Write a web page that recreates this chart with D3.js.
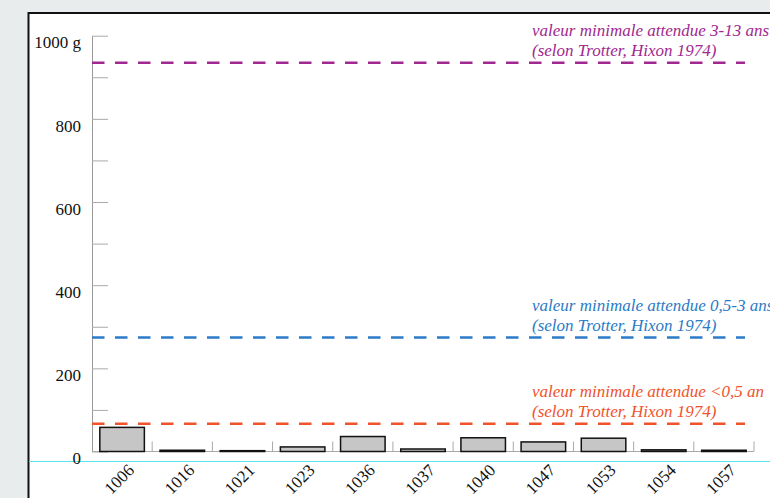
<!DOCTYPE html>
<html lang="fr">
<head>
<meta charset="utf-8">
<title></title>
<script src="https://d3js.org/d3.v7.min.js"></script>
<style type="text/css">
  body { margin: 0; background: #e9eced; }
  text { font-family: "Liberation Serif", "DejaVu Serif", serif; }
</style>
</head>
<body>
<svg width="770" height="498" id="svg1"></svg>
<script>
  // data (grams)
  var ids = ["1006", "1016", "1021", "1023", "1036", "1037", "1040", "1047", "1053", "1054", "1057"];
  var weights = [58, 3, 2, 11, 36, 6, 33, 23, 32, 4, 3];
  var yTicks = [0, 100, 200, 300, 400, 500, 600, 700, 800, 900, 1000];
  var refValues = [935, 274, 67];
  var refLabels = [
    ["valeur minimale attendue 3-13 ans", "(selon Trotter, Hixon 1974)"],
    ["valeur minimale attendue 0,5-3 ans", "(selon Trotter, Hixon 1974)"],
    ["valeur minimale attendue <0,5 an", "(selon Trotter, Hixon 1974)"]
  ];
  var refColors = ["#a0288f", "#2b7bc6", "#f0532b"];

  var svg = d3.select("#svg1");

  // frame
  svg.append("rect").attr("x", 28.5).attr("y", 13).attr("width", 800).attr("height", 600)
    .attr("fill", "#fff").attr("stroke", "#111").attr("stroke-width", 2);

  // cyan line under the baseline
  svg.append("line").attr("x1", 29).attr("x2", 770).attr("y1", 461.5).attr("y2", 461.5)
    .attr("stroke", "#55e8ea").attr("stroke-width", 1.2);

  var xScale = d3.scaleBand().domain(ids).range([92, 754]).paddingInner(0).paddingOuter(0);
  var yScale = d3.scaleLinear().domain([0, 1000]).range([451.5, 35.7]);

  // y axis: ticks to the right, labels on the left
  var yAxis = d3.axisLeft(yScale).tickValues(yTicks).tickSizeInner(-16).tickSizeOuter(0).tickPadding(11)
    .tickFormat(function(d) { return d % 200 ? "" : (d == 1000 ? "1000 g" : d); });
  var gy = svg.append("g").attr("transform", "translate(92,0)").call(yAxis);
  gy.select(".domain").attr("stroke", "#999");
  gy.selectAll(".tick line").attr("stroke", "#aaa");
  gy.selectAll(".tick text").attr("font-size", 17).attr("fill", "#111")
    .attr("font-family", "Liberation Serif").attr("dy", "0.72em");

  // baseline with separators between categories
  svg.append("line").attr("x1", 92).attr("x2", 754).attr("y1", yScale(0)).attr("y2", yScale(0))
    .attr("stroke", "#aaa");
  svg.selectAll(".sep").data(ids).enter().append("line").attr("class", "sep")
    .attr("x1", function(d) { return xScale(d) + xScale.bandwidth(); })
    .attr("x2", function(d) { return xScale(d) + xScale.bandwidth(); })
    .attr("y1", yScale(0)).attr("y2", yScale(0) - 10)
    .attr("stroke", "#aaa");

  // bars
  var bw = xScale.bandwidth() * 0.74;
  svg.selectAll(".bar").data(ids).enter().append("rect").attr("class", "bar")
    .attr("x", function(d) { return xScale(d) + (xScale.bandwidth() - bw) / 2; })
    .attr("y", function(d, i) { return yScale(weights[i]); })
    .attr("width", bw)
    .attr("height", function(d, i) { return yScale(0) - yScale(weights[i]); })
    .attr("fill", "#c6c6c6").attr("stroke", "#111").attr("stroke-width", 1.5);

  // rotated category labels
  svg.selectAll(".xlab").data(ids).enter().append("text").attr("class", "xlab")
    .attr("transform", function(d) {
      return "translate(" + (xScale(d) + xScale.bandwidth() / 2 + 9) + ",467) rotate(-45)";
    })
    .attr("text-anchor", "end").attr("dy", "0.35em")
    .attr("font-size", 17).attr("fill", "#111")
    .text(function(d) { return d; });

  // reference lines with labels
  refValues.forEach(function(v, i) {
    svg.append("line").attr("x1", 92).attr("x2", 745).attr("y1", yScale(v)).attr("y2", yScale(v))
      .attr("stroke", refColors[i]).attr("stroke-width", 2.5).attr("stroke-dasharray", "12.5,10.5");
    refLabels[i].forEach(function(t, j) {
      svg.append("text").attr("x", 532).attr("y", yScale(v) - 26.7 + j * 19.7)
        .attr("font-size", 17).attr("font-style", "italic").attr("fill", refColors[i])
        .text(t);
    });
  });
</script>
</body>
</html>
